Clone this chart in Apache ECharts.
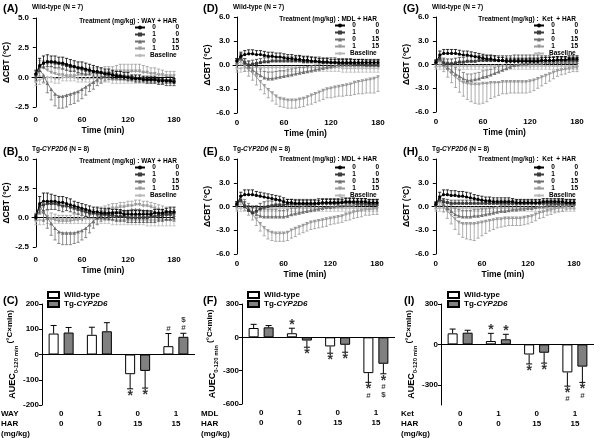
<!DOCTYPE html>
<html><head><meta charset="utf-8">
<script src="https://cdn.jsdelivr.net/npm/echarts@6/dist/echarts.min.js"></script>
<style>html,body{margin:0;padding:0;background:#fff}#c{width:600px;height:443px}</style>
</head><body><div id="c"></div>
<script>
// ---------- DATA ----------
const T = [0,5,10,15,20,25,30,35,40,45,50,55,60,65,70,75,80,85,90,95,100,105,110,115,120,125,130,135,140,145,150,155,160,165,170,175,180];
const SERIES_NAMES = ['0|0','1|0','0|15','1|15','Baseline'];
const TIME_TICKS = [0,60,120,180];

// Panel A (Wild-type, WAY + HAR)
const A_00  = [0.3,1.0,1.2,1.3,1.3,1.3,1.2,1.2,1.1,1.0, 0.9,0.8,0.8,0.7,0.6,0.5,0.5,0.4,0.3,0.3, 0.2,0.1,0.1,0.0,0.0,-0.1,-0.1,-0.1,-0.2,-0.2, -0.2,-0.2,-0.3,-0.3,-0.3,-0.3,-0.4];
const A_00e = [0.3,0.6,0.6,0.6,0.5,0.5,0.5,0.5,0.5,0.5, 0.5,0.5,0.5,0.5,0.5,0.5,0.4,0.4,0.4,0.4, 0.4,0.4,0.4,0.4,0.4,0.3,0.3,0.3,0.3,0.3, 0.3,0.3,0.3,0.3,0.3,0.3,0.3];
const A_10  = [0.2,0.9,1.2,1.3,1.3,1.2,1.2,1.1,1.0,0.9, 0.9,0.8,0.7,0.6,0.6,0.5,0.4,0.4,0.3,0.3, 0.2,0.2,0.1,0.1,0.0,0.0,-0.1,-0.1,-0.1,-0.2, -0.2,-0.2,-0.2,-0.2,-0.3,-0.3,-0.3];
const A_10e = [0.2,0.4,0.4,0.4,0.4,0.4,0.4,0.4,0.4,0.4, 0.4,0.4,0.4,0.4,0.4,0.4,0.3,0.3,0.3,0.3, 0.3,0.3,0.3,0.3,0.3,0.3,0.3,0.3,0.3,0.3, 0.3,0.3,0.4,0.4,0.4,0.4,0.4];
const A_015 = [0.0,0.6,0.2,-0.5,-1.0,-1.4,-1.6,-1.6,-1.5,-1.4, -1.3,-1.2,-1.0,-0.8,-0.6,-0.4,-0.2,0.0,0.1,0.2, 0.2,0.2,0.2,0.1,0.1,0.1,0.0,0.0,0.0,-0.1, -0.1,-0.1,-0.1,-0.2,-0.2,-0.2,-0.2];
const A_015e= [0.3,0.5,0.6,0.8,0.9,1.0,1.0,1.0,1.0,0.9, 0.9,0.8,0.8,0.7,0.6,0.6,0.5,0.5,0.4,0.4, 0.4,0.4,0.3,0.3,0.3,0.3,0.3,0.3,0.3,0.3, 0.3,0.3,0.3,0.3,0.3,0.3,0.3];
const A_115 = [0.2,0.8,0.8,0.6,0.4,0.3,0.2,0.2,0.1,0.1, 0.1,0.2,0.2,0.2,0.3,0.3,0.3,0.3,0.4,0.4, 0.4,0.5,0.5,0.5,0.5,0.5,0.5,0.5,0.4,0.4, 0.3,0.3,0.2,0.2,0.1,0.1,0.1];
const A_115e= [0.3,0.6,0.6,0.5,0.5,0.5,0.5,0.5,0.5,0.5, 0.5,0.5,0.5,0.5,0.5,0.5,0.5,0.5,0.5,0.5, 0.5,0.5,0.6,0.6,0.6,0.6,0.6,0.6,0.6,0.5, 0.5,0.5,0.5,0.4,0.4,0.4,0.4];
const A_BL  = [-0.4,-0.2,-0.1,0.0,0.0,-0.1,-0.1,0.0,0.0,0.0, 0.0,-0.1,-0.1,-0.1,-0.1,-0.1,-0.1,-0.1,-0.1,-0.1, -0.2,-0.2,-0.2,-0.2,-0.2,-0.2,-0.2,-0.2,-0.2,-0.2, -0.2,-0.2,-0.2,-0.2,-0.2,-0.2,-0.2];
const A_BLe = [0.3,0.4,0.4,0.4,0.4,0.4,0.4,0.3,0.3,0.3, 0.3,0.3,0.3,0.3,0.3,0.3,0.3,0.3,0.3,0.3, 0.3,0.3,0.3,0.3,0.3,0.3,0.3,0.3,0.3,0.3, 0.3,0.3,0.3,0.3,0.3,0.3,0.3];
const A_dir = [1,-1,-1,1,-1];

// Panel B (Tg-CYP2D6, WAY + HAR)
const B_00  = [0.0,1.2,1.4,1.4,1.4,1.4,1.3,1.3,1.2,1.1, 1.0,0.9,0.8,0.7,0.6,0.5,0.5,0.4,0.4,0.4, 0.4,0.4,0.4,0.3,0.3,0.3,0.3,0.3,0.3,0.3, 0.3,0.4,0.4,0.4,0.5,0.5,0.5];
const B_00e = [0.3,0.6,0.7,0.7,0.6,0.5,0.5,0.5,0.5,0.5, 0.4,0.4,0.4,0.4,0.4,0.4,0.4,0.4,0.4,0.4, 0.3,0.3,0.3,0.3,0.3,0.3,0.3,0.3,0.3,0.3, 0.3,0.3,0.3,0.3,0.3,0.4,0.4];
const B_10  = [0.1,1.0,1.1,1.2,1.2,1.2,1.1,1.0,1.0,0.9, 0.8,0.7,0.6,0.5,0.4,0.4,0.3,0.3,0.3,0.2, 0.2,0.1,0.1,0.1,0.0,0.0,0.0,0.0,0.0,0.0, 0.1,0.1,0.2,0.2,0.3,0.3,0.4];
const B_10e = [0.3,0.6,0.5,0.5,0.5,0.5,0.5,0.5,0.4,0.4, 0.4,0.4,0.4,0.4,0.4,0.4,0.4,0.4,0.4,0.4, 0.4,0.4,0.4,0.4,0.4,0.4,0.4,0.4,0.4,0.4, 0.5,0.5,0.5,0.5,0.5,0.5,0.5];
const B_015 = [0.2,1.0,0.5,0.0,-0.5,-0.9,-1.2,-1.3,-1.3,-1.3, -1.3,-1.2,-1.1,-0.9,-0.6,-0.3,0.0,0.2,0.3,0.4, 0.5,0.5,0.6,0.6,0.6,0.7,0.7,0.7,0.6,0.6, 0.5,0.5,0.4,0.4,0.3,0.3,0.2];
const B_015e= [0.3,0.7,0.8,0.9,1.0,1.0,1.0,1.0,1.0,1.0, 0.9,0.9,0.8,0.8,0.7,0.6,0.6,0.5,0.5,0.5, 0.5,0.5,0.5,0.5,0.5,0.5,0.5,0.5,0.5,0.5, 0.5,0.5,0.5,0.5,0.5,0.5,0.5];
const B_115 = [0.1,0.6,0.4,0.1,-0.1,-0.2,-0.3,-0.3,-0.3,-0.3, -0.2,-0.2,-0.1,0.0,0.2,0.3,0.4,0.5,0.6,0.7, 0.8,0.8,0.9,0.9,1.0,1.0,1.1,1.1,1.0,1.0, 0.9,0.8,0.7,0.6,0.5,0.4,0.3];
const B_115e= [0.3,0.5,0.5,0.5,0.5,0.5,0.5,0.5,0.5,0.5, 0.5,0.5,0.5,0.5,0.4,0.4,0.4,0.4,0.4,0.4, 0.4,0.4,0.4,0.4,0.4,0.4,0.4,0.4,0.4,0.4, 0.4,0.4,0.4,0.4,0.4,0.4,0.4];
const B_BL  = [-0.3,-0.2,-0.2,-0.1,-0.1,-0.1,-0.1,-0.1,-0.1,-0.1, -0.1,-0.1,-0.1,-0.1,-0.1,-0.1,-0.1,-0.1,-0.1,-0.1, -0.2,-0.2,-0.2,-0.2,-0.2,-0.2,-0.2,-0.2,-0.2,-0.2, -0.2,-0.2,-0.2,-0.2,-0.2,-0.2,-0.2];
const B_BLe = [0.3,0.4,0.4,0.4,0.4,0.4,0.4,0.4,0.4,0.4, 0.4,0.4,0.4,0.4,0.4,0.4,0.4,0.4,0.4,0.4, 0.4,0.4,0.4,0.4,0.4,0.4,0.4,0.4,0.4,0.5, 0.5,0.5,0.5,0.5,0.5,0.5,0.5];
const B_dir = [1,-1,-1,1,-1];

// Panel D (Wild-type, MDL + HAR)
const D_00  = [0.5,1.1,1.3,1.4,1.4,1.3,1.3,1.2,1.1,1.1, 1.0,1.0,0.9,0.8,0.8,0.7,0.7,0.6,0.6,0.5, 0.5,0.4,0.4,0.4,0.3,0.3,0.3,0.3,0.3,0.3, 0.3,0.3,0.3,0.3,0.3,0.3,0.3];
const D_00e = [0.3,0.5,0.5,0.5,0.5,0.5,0.5,0.5,0.5,0.5, 0.5,0.5,0.5,0.5,0.5,0.5,0.5,0.5,0.5,0.5, 0.4,0.4,0.4,0.4,0.4,0.4,0.4,0.4,0.4,0.4, 0.4,0.4,0.4,0.4,0.4,0.4,0.4];
const D_10  = [0.5,0.9,0.3,0.0,0.1,0.2,0.3,0.4,0.4,0.5, 0.5,0.5,0.5,0.5,0.5,0.5,0.5,0.4,0.4,0.4, 0.4,0.4,0.3,0.3,0.3,0.3,0.2,0.2,0.2,0.2, 0.1,0.1,0.1,0.0,0.0,0.0,0.0];
const D_10e = [0.3,0.5,0.5,0.5,0.5,0.5,0.5,0.5,0.5,0.5, 0.5,0.5,0.5,0.5,0.5,0.5,0.6,0.6,0.6,0.6, 0.6,0.6,0.6,0.6,0.6,0.6,0.6,0.6,0.6,0.6, 0.6,0.6,0.6,0.6,0.6,0.6,0.6];
const D_015 = [0.3,0.8,0.2,-0.2,-0.6,-1.0,-1.3,-1.6,-1.7,-1.7, -1.6,-1.5,-1.4,-1.3,-1.2,-1.1,-1.0,-0.9,-0.8,-0.7, -0.6,-0.5,-0.4,-0.3,-0.2,-0.1,0.0,0.0,0.0,0.0, 0.0,0.0,0.0,0.0,0.0,0.0,0.0];
const D_015e= [0.3,0.5,0.6,0.7,0.8,0.8,0.8,0.8,0.8,0.8, 0.8,0.8,0.7,0.7,0.7,0.7,0.7,0.6,0.6,0.6, 0.6,0.6,0.6,0.6,0.5,0.5,0.5,0.5,0.5,0.5, 0.5,0.5,0.5,0.5,0.5,0.5,0.5];
const D_115 = [0.0,0.5,-0.2,-0.6,-1.0,-1.5,-2.1,-2.6,-3.1,-3.5, -3.9,-4.2,-4.3,-4.4,-4.4,-4.4,-4.3,-4.2,-4.0,-3.8, -3.6,-3.4,-3.2,-3.0,-2.9,-2.8,-2.7,-2.6,-2.5,-2.4, -2.2,-2.1,-2.0,-1.9,-1.8,-1.7,-1.5];
const D_115e= [0.3,0.5,0.6,0.8,0.9,1.0,1.0,1.0,1.0,1.0, 1.0,1.0,1.0,1.0,1.0,1.0,1.0,1.0,1.0,1.1, 1.1,1.1,1.1,1.1,1.2,1.2,1.2,1.3,1.3,1.4, 1.5,1.5,1.6,1.6,1.7,1.8,1.8];
const D_BL  = [-0.5,-0.4,-0.3,-0.3,-0.3,-0.3,-0.3,-0.3,-0.3,-0.3, -0.3,-0.3,-0.3,-0.3,-0.3,-0.3,-0.3,-0.3,-0.3,-0.3, -0.3,-0.3,-0.3,-0.3,-0.3,-0.3,-0.3,-0.4,-0.4,-0.4, -0.4,-0.4,-0.4,-0.4,-0.4,-0.4,-0.4];
const D_BLe = [0.4,0.5,0.5,0.5,0.5,0.5,0.5,0.5,0.5,0.5, 0.5,0.5,0.5,0.5,0.5,0.5,0.5,0.5,0.5,0.5, 0.5,0.5,0.5,0.5,0.5,0.5,0.5,0.5,0.5,0.5, 0.5,0.5,0.5,0.5,0.5,0.5,0.5];
const D_dir = [1,1,1,-1,-1];

// Panel E (Tg-CYP2D6, MDL + HAR)
const E_00  = [0.3,1.3,1.5,1.5,1.5,1.4,1.3,1.2,1.1,1.0, 0.9,0.8,0.6,0.5,0.5,0.4,0.4,0.4,0.4,0.4, 0.4,0.4,0.5,0.5,0.5,0.5,0.5,0.5,0.6,0.6, 0.6,0.6,0.6,0.6,0.5,0.5,0.5];
const E_00e = [0.3,0.5,0.6,0.6,0.6,0.5,0.5,0.5,0.5,0.5, 0.5,0.5,0.5,0.4,0.4,0.4,0.4,0.4,0.4,0.4, 0.4,0.4,0.4,0.4,0.4,0.4,0.4,0.4,0.4,0.4, 0.4,0.4,0.4,0.4,0.4,0.4,0.4];
const E_10  = [0.3,0.8,0.0,-0.5,-0.8,-0.6,-0.3,-0.1,0.0,0.1, 0.2,0.2,0.2,0.3,0.3,0.3,0.3,0.3,0.3,0.3, 0.3,0.4,0.4,0.4,0.4,0.4,0.4,0.5,0.5,0.5, 0.5,0.4,0.4,0.4,0.3,0.3,0.3];
const E_10e = [0.3,0.5,0.6,0.6,0.7,0.7,0.7,0.7,0.7,0.6, 0.6,0.6,0.6,0.6,0.6,0.6,0.6,0.6,0.6,0.6, 0.6,0.6,0.6,0.6,0.6,0.6,0.6,0.6,0.6,0.6, 0.6,0.6,0.6,0.6,0.6,0.6,0.6];
const E_015 = [0.3,0.8,0.3,-0.3,-0.7,-1.0,-1.2,-1.3,-1.3,-1.3, -1.3,-1.3,-1.3,-1.2,-1.0,-0.9,-0.8,-0.7,-0.6,-0.5, -0.4,-0.3,-0.2,-0.1,-0.1,0.0,0.1,0.1,0.2,0.2, 0.2,0.3,0.3,0.3,0.3,0.3,0.3];
const E_015e= [0.3,0.5,0.6,0.7,0.8,0.9,0.9,0.9,0.9,0.9, 0.9,0.8,0.8,0.8,0.8,0.7,0.7,0.7,0.7,0.7, 0.7,0.6,0.6,0.6,0.6,0.6,0.6,0.6,0.5,0.5, 0.5,0.5,0.5,0.5,0.5,0.5,0.5];
const E_115 = [0.2,0.6,0.0,-0.5,-1.0,-1.6,-2.2,-2.7,-3.1,-3.3, -3.4,-3.4,-3.4,-3.3,-3.0,-2.8,-2.6,-2.4,-2.2,-2.0, -1.9,-1.8,-1.7,-1.6,-1.5,-1.4,-1.3,-1.2,-1.0,-0.9, -0.7,-0.6,-0.5,-0.4,-0.4,-0.3,-0.3];
const E_115e= [0.3,0.4,0.5,0.6,0.7,0.8,0.9,1.0,1.0,1.0, 1.0,1.0,1.0,1.0,1.0,1.0,0.9,0.9,0.9,0.9, 0.9,0.9,0.9,0.9,0.8,0.8,0.8,0.8,0.8,0.8, 0.8,0.8,0.8,0.7,0.7,0.7,0.7];
const E_BL  = [-0.3,-0.2,-0.2,-0.2,-0.2,-0.2,-0.2,-0.2,-0.2,-0.2, -0.2,-0.2,-0.2,-0.2,-0.2,-0.2,-0.2,-0.2,-0.2,-0.2, -0.2,-0.2,-0.2,-0.2,-0.2,-0.2,-0.2,-0.2,-0.2,-0.2, -0.2,-0.2,-0.2,-0.2,-0.2,-0.2,-0.2];
const E_BLe = [0.3,0.4,0.4,0.4,0.4,0.4,0.4,0.4,0.4,0.4, 0.4,0.4,0.4,0.4,0.4,0.4,0.4,0.4,0.4,0.4, 0.4,0.4,0.4,0.4,0.4,0.4,0.4,0.4,0.4,0.4, 0.4,0.4,0.4,0.4,0.4,0.4,0.4];
const E_dir = [1,1,1,-1,-1];

// Panel G (Wild-type, Ket + HAR)
const G_00  = [0.3,1.2,1.4,1.4,1.4,1.4,1.3,1.2,1.2,1.1, 1.0,0.9,0.8,0.7,0.7,0.6,0.5,0.5,0.4,0.4, 0.4,0.4,0.4,0.4,0.4,0.4,0.4,0.5,0.5,0.5, 0.5,0.6,0.6,0.6,0.7,0.7,0.7];
const G_00e = [0.3,0.5,0.5,0.5,0.5,0.5,0.5,0.5,0.5,0.5, 0.5,0.5,0.5,0.5,0.5,0.5,0.4,0.4,0.4,0.4, 0.4,0.4,0.4,0.4,0.4,0.4,0.4,0.4,0.4,0.4, 0.4,0.4,0.4,0.4,0.4,0.4,0.4];
const G_10  = [0.2,0.8,0.2,0.1,0.1,0.2,0.3,0.3,0.4,0.4, 0.4,0.5,0.5,0.5,0.5,0.5,0.5,0.5,0.5,0.5, 0.5,0.5,0.5,0.5,0.5,0.5,0.5,0.5,0.5,0.5, 0.5,0.5,0.5,0.5,0.5,0.5,0.5];
const G_10e = [0.3,0.5,0.6,0.6,0.6,0.6,0.6,0.6,0.6,0.6, 0.6,0.6,0.6,0.6,0.6,0.6,0.6,0.6,0.6,0.6, 0.7,0.7,0.7,0.7,0.7,0.7,0.7,0.6,0.6,0.6, 0.5,0.5,0.5,0.5,0.4,0.4,0.4];
const G_015 = [0.2,0.6,0.0,-0.4,-0.8,-1.2,-1.5,-1.8,-2.0,-2.0, -1.9,-1.8,-1.6,-1.5,-1.3,-1.1,-0.9,-0.7,-0.5,-0.3, -0.1,0.0,0.1,0.1,0.2,0.2,0.2,0.2,0.3,0.3, 0.3,0.3,0.3,0.3,0.3,0.3,0.3];
const G_015e= [0.3,0.5,0.6,0.7,0.8,0.8,0.8,0.8,0.8,0.8, 0.8,0.8,0.8,0.8,0.7,0.7,0.7,0.7,0.7,0.7, 0.7,0.7,0.6,0.6,0.6,0.6,0.6,0.6,0.6,0.6, 0.6,0.6,0.6,0.6,0.6,0.6,0.6];
const G_115 = [0.0,0.5,-0.2,-0.7,-1.2,-1.6,-2.0,-2.3,-2.4,-2.5, -2.5,-2.5,-2.4,-2.4,-2.3,-2.3,-2.3,-2.2,-2.2,-2.2, -2.2,-2.2,-2.2,-2.2,-2.1,-2.0,-1.8,-1.6,-1.4,-1.2, -1.0,-0.8,-0.7,-0.6,-0.5,-0.4,-0.4];
const G_115e= [0.3,0.5,0.7,0.9,1.1,1.3,1.5,1.7,2.0,2.2, 2.4,2.5,2.5,2.3,2.0,1.8,1.6,1.5,1.5,1.4, 1.4,1.4,1.4,1.4,1.4,1.3,1.2,1.1,1.0,0.9, 0.8,0.7,0.6,0.6,0.5,0.5,0.5];
const G_BL  = [-0.3,-0.2,-0.2,-0.2,-0.2,-0.2,-0.2,-0.2,-0.2,-0.2, -0.2,-0.2,-0.2,-0.2,-0.2,-0.2,-0.2,-0.2,-0.2,-0.2, -0.2,-0.2,-0.2,-0.2,-0.2,-0.2,-0.2,-0.2,-0.2,-0.2, -0.2,-0.2,-0.2,-0.2,-0.2,-0.2,-0.2];
const G_BLe = [0.3,0.4,0.4,0.4,0.4,0.4,0.4,0.4,0.4,0.4, 0.4,0.4,0.4,0.4,0.4,0.4,0.4,0.4,0.4,0.4, 0.4,0.4,0.4,0.4,0.4,0.4,0.4,0.4,0.4,0.4, 0.4,0.4,0.4,0.4,0.4,0.4,0.4];
const G_dir = [1,1,1,-1,-1];

// Panel H (Tg-CYP2D6, Ket + HAR)
const H_00  = [0.3,1.2,1.5,1.5,1.4,1.4,1.3,1.3,1.2,1.1, 1.0,0.9,0.8,0.7,0.7,0.6,0.6,0.6,0.6,0.6, 0.6,0.5,0.5,0.5,0.5,0.5,0.5,0.5,0.6,0.6, 0.6,0.6,0.6,0.6,0.5,0.5,0.5];
const H_00e = [0.3,0.6,0.6,0.6,0.6,0.6,0.6,0.6,0.6,0.6, 0.5,0.5,0.5,0.5,0.5,0.5,0.5,0.5,0.5,0.5, 0.4,0.4,0.4,0.4,0.4,0.4,0.4,0.4,0.4,0.4, 0.4,0.4,0.4,0.4,0.4,0.4,0.4];
const H_10  = [0.2,0.9,0.6,0.5,0.4,0.4,0.4,0.4,0.4,0.4, 0.4,0.4,0.4,0.4,0.4,0.4,0.4,0.4,0.4,0.4, 0.4,0.4,0.4,0.4,0.4,0.4,0.4,0.4,0.4,0.4, 0.4,0.4,0.4,0.4,0.4,0.4,0.4];
const H_10e = [0.3,0.4,0.4,0.4,0.4,0.4,0.4,0.4,0.4,0.4, 0.4,0.4,0.4,0.4,0.4,0.4,0.4,0.4,0.4,0.4, 0.4,0.4,0.4,0.4,0.4,0.4,0.4,0.4,0.4,0.4, 0.4,0.4,0.4,0.4,0.4,0.4,0.4];
const H_015 = [0.2,0.8,0.3,-0.2,-0.6,-1.0,-1.2,-1.3,-1.3,-1.3, -1.2,-1.2,-1.1,-1.0,-0.9,-0.8,-0.7,-0.6,-0.6,-0.5, -0.4,-0.4,-0.3,-0.3,-0.2,-0.2,-0.1,0.0,0.0,0.1, 0.2,0.2,0.3,0.3,0.3,0.3,0.3];
const H_015e= [0.3,0.5,0.6,0.7,0.8,0.8,0.8,0.8,0.8,0.8, 0.8,0.8,0.8,0.7,0.7,0.7,0.7,0.7,0.7,0.7, 0.7,0.6,0.6,0.6,0.6,0.6,0.6,0.6,0.6,0.6, 0.6,0.6,0.6,0.6,0.6,0.6,0.6];
const H_115 = [0.1,0.6,0.0,-0.6,-1.1,-1.6,-2.0,-2.2,-2.2,-2.2, -2.2,-2.1,-2.0,-1.9,-1.8,-1.7,-1.6,-1.6,-1.5,-1.5, -1.5,-1.5,-1.5,-1.4,-1.3,-1.2,-1.0,-0.8,-0.7,-0.5, -0.4,-0.3,-0.2,-0.1,0.0,0.1,0.1];
const H_115e= [0.3,0.5,0.7,0.9,1.1,1.3,1.5,1.7,1.9,2.0, 2.1,1.9,1.7,1.5,1.3,1.2,1.1,1.0,1.0,0.9, 0.9,0.9,0.9,0.9,0.9,0.8,0.8,0.7,0.7,0.6, 0.6,0.5,0.5,0.5,0.4,0.4,0.4];
const H_BL  = [-0.3,-0.2,-0.2,-0.2,-0.2,-0.2,-0.2,-0.2,-0.2,-0.2, -0.2,-0.2,-0.2,-0.2,-0.2,-0.2,-0.2,-0.2,-0.2,-0.2, -0.2,-0.2,-0.2,-0.2,-0.2,-0.2,-0.2,-0.2,-0.2,-0.2, -0.2,-0.2,-0.2,-0.2,-0.2,-0.2,-0.2];
const H_BLe = [0.3,0.4,0.4,0.4,0.4,0.4,0.4,0.4,0.4,0.4, 0.4,0.4,0.4,0.4,0.4,0.4,0.4,0.4,0.4,0.4, 0.4,0.4,0.4,0.4,0.4,0.4,0.4,0.4,0.4,0.4, 0.4,0.4,0.4,0.4,0.4,0.4,0.4];
const H_dir = [1,1,1,-1,-1];

// Bar panels: AUEC 0-120 min
const BAR_GROUPS = ['g1','g2','g3','g4'];
const HAR_DOSE = ['0','0','15','15'];
const C_DRUG = ['0','1','0','1'];
const C_WT = [83, 78, -78, 33];   const C_WTe = [32, 30, 58, 50];
const C_TG = [87, 92, -65, 70];   const C_TGe = [20, 34, 68, 14];
const C_WTann = ['', '', '*', '#'];
const C_TGann = ['', '', '*', '$\n#'];
const F_DRUG = ['0','1','0','1'];
const F_WT = [84, 37, -82, -322]; const F_WTe = [33, 45, 61, 83];
const F_TG = [90, -29, -67, -238]; const F_TGe = [16, 60, 67, 90];
const F_WTann = ['', '*', '*', '*\n#'];
const F_TGann = ['', '*', '*', '*\n#\n$'];
const I_DRUG = ['0','1','0','1'];
const I_WT = [82, 25, -75, -208]; const I_WTe = [32, 57, 70, 102];
const I_TG = [87, 38, -62, -165]; const I_TGe = [18, 37, 77, 117];
const I_WTann = ['', '*', '*', '*\n#'];
const I_TGann = ['', '*', '*', '*\n#'];

// ---------- CHART ----------
const FONT = '"Liberation Sans", Arial, Helvetica, sans-serif';
const STY = [
  {color:'#000000', symbol:'circle', rot:0, size:3.2},
  {color:'#3c3c3c', symbol:'rect', rot:0, size:3},
  {color:'#707070', symbol:'triangle', rot:0, size:3.6},
  {color:'#9a9a9a', symbol:'triangle', rot:180, size:3.6},
  {color:'#b8b8b8', symbol:'diamond', rot:0, size:3.6}
];

const timePanels = [
  {grid:{left:32,top:18,width:142,height:89}, ymin:-2.5,ymax:5,yint:2.5, xoff:5,
   m:[A_00,A_10,A_015,A_115,A_BL], e:[A_00e,A_10e,A_015e,A_115e,A_BLe], dir:A_dir, leg:{left:134,top:24}},
  {grid:{left:32,top:159,width:142,height:88}, ymin:-2.5,ymax:5,yint:2.5, xoff:5,
   m:[B_00,B_10,B_015,B_115,B_BL], e:[B_00e,B_10e,B_015e,B_115e,B_BLe], dir:B_dir, leg:{left:134,top:164}},
  {grid:{left:233,top:17,width:145,height:96}, ymin:-6,ymax:6,yint:3, xoff:2,
   m:[D_00,D_10,D_015,D_115,D_BL], e:[D_00e,D_10e,D_015e,D_115e,D_BLe], dir:D_dir, leg:{left:334,top:22}},
  {grid:{left:233,top:159,width:144,height:95}, ymin:-6,ymax:6,yint:3, xoff:2,
   m:[E_00,E_10,E_015,E_115,E_BL], e:[E_00e,E_10e,E_015e,E_115e,E_BLe], dir:E_dir, leg:{left:334,top:164}},
  {grid:{left:432,top:17,width:145,height:95}, ymin:-6,ymax:6,yint:3, xoff:2,
   m:[G_00,G_10,G_015,G_115,G_BL], e:[G_00e,G_10e,G_015e,G_115e,G_BLe], dir:G_dir, leg:{left:533,top:22}},
  {grid:{left:432,top:159,width:142,height:95}, ymin:-6,ymax:6,yint:3, xoff:2,
   m:[H_00,H_10,H_015,H_115,H_BL], e:[H_00e,H_10e,H_015e,H_115e,H_BLe], dir:H_dir, leg:{left:533,top:164}}
];

const barPanels = [
  {grid:{left:42,top:304,width:153,height:101}, ymin:-200,ymax:200,yint:100, drug:C_DRUG,
   wt:C_WT, wte:C_WTe, tg:C_TG, tge:C_TGe, wta:C_WTann, tga:C_TGann, leg:{left:47,top:291}},
  {grid:{left:242,top:304,width:153,height:100}, ymin:-600,ymax:300,yint:300, drug:F_DRUG,
   wt:F_WT, wte:F_WTe, tg:F_TG, tge:F_TGe, wta:F_WTann, tga:F_TGann, leg:{left:247,top:291}},
  {grid:{left:441,top:304,width:153,height:101}, ymin:-450,ymax:300,yint:150, custom:[-300,0,300], drug:I_DRUG,
   wt:I_WT, wte:I_WTe, tg:I_TG, tge:I_TGe, wta:I_WTann, tga:I_TGann, leg:{left:447,top:291}}
];

const grids = [], xAxes = [], yAxes = [], series = [], legends = [];
const axisTxt = {fontFamily:FONT, fontWeight:'bold', fontSize:8, color:'#000'};

function timeErr(params, api) {
  const x = api.value(0), y = api.value(1), e = api.value(2), d = api.value(3);
  const p0 = api.coord([x, y]), p1 = api.coord([x, y + d * e]);
  const c = api.visual('color');
  return {type:'group', children:[
    {type:'line', shape:{x1:p0[0],y1:p0[1],x2:p1[0],y2:p1[1]}, style:{stroke:c,lineWidth:0.8}},
    {type:'line', shape:{x1:p1[0]-1.6,y1:p1[1],x2:p1[0]+1.6,y2:p1[1]}, style:{stroke:c,lineWidth:0.8}}
  ]};
}
function barErr(params, api) {
  const cat = api.value(0), v = api.value(1), e = api.value(2), side = api.value(3);
  const s = v >= 0 ? 1 : -1;
  const p0 = api.coord([cat, v]), p1 = api.coord([cat, v + s * e]);
  const x = p0[0] + side * 7.5;
  const st = {stroke:'#000', lineWidth:1};
  return {type:'group', children:[
    {type:'line', shape:{x1:x,y1:p0[1],x2:x,y2:p1[1]}, style:st},
    {type:'line', shape:{x1:x-3,y1:p1[1],x2:x+3,y2:p1[1]}, style:st}
  ]};
}

timePanels.forEach((p, k) => {
  grids.push(Object.assign({outerBoundsMode:'none', containLabel:false}, p.grid));
  xAxes.push({type:'value', gridIndex:k, min:-5, max:180, offset:p.xoff,
    name:'Time (min)', nameLocation:'middle', nameGap:14,
    nameTextStyle:{fontFamily:FONT, fontWeight:'bold', fontSize:8.5, color:'#000'},
    axisLine:{lineStyle:{color:'#000', width:1}}, splitLine:{show:false},
    axisTick:{length:3, lineStyle:{color:'#000'}, customValues:TIME_TICKS},
    axisLabel:Object.assign({margin:4, customValues:TIME_TICKS}, axisTxt)});
  yAxes.push({type:'value', gridIndex:k, min:p.ymin, max:p.ymax, interval:p.yint,
    name:'ΔCBT (°C)', nameLocation:'middle', nameGap:19, nameRotate:90,
    nameTextStyle:{fontFamily:FONT, fontWeight:'bold', fontSize:8.5, color:'#000'},
    axisLine:{show:true, lineStyle:{color:'#000', width:1}}, splitLine:{show:false},
    axisTick:{show:true, length:3, lineStyle:{color:'#000'}},
    axisLabel:Object.assign({margin:3, formatter:v => v.toFixed(1)}, axisTxt)});
  for (let s = 0; s < 5; s++) {
    const st = STY[s];
    series.push({type:'line', name:SERIES_NAMES[s], xAxisIndex:k, yAxisIndex:k,
      data:T.map((t,i) => [t, p.m[s][i]]), symbol:st.symbol, symbolRotate:st.rot, symbolSize:st.size,
      showSymbol:true, lineStyle:{color:st.color, width:0.9}, itemStyle:{color:st.color},
      z:10 - s, animation:false, silent:true});
    series.push({type:'custom', name:'err'+k+'_'+s, xAxisIndex:k, yAxisIndex:k,
      data:T.map((t,i) => [t, p.m[s][i], p.e[s][i], p.dir[s]]),
      encode:{x:0, y:1}, renderItem:timeErr, itemStyle:{color:st.color}, z:10 - s, silent:true, animation:false});
  }
  const lt = {fontFamily:FONT, fontWeight:'bold', fontSize:6.5, color:'#000', lineHeight:5};
  legends.push({orient:'vertical', left:p.leg.left, top:p.leg.top, itemWidth:10, itemHeight:5, itemGap:0,
    padding:0, data:SERIES_NAMES.slice(), selectedMode:false, z:20,
    formatter:n => n === 'Baseline' ? '{c|Baseline}' : '{a|' + n.split('|')[0] + '}{b|' + n.split('|')[1] + '}',
    textStyle:Object.assign({}, lt, {rich:{a:Object.assign({width:8, align:'center'}, lt),
      b:Object.assign({width:21, align:'right'}, lt), c:Object.assign({}, lt)}})});
});

barPanels.forEach((p, j) => {
  const k = timePanels.length + j;
  grids.push(Object.assign({outerBoundsMode:'none', containLabel:false}, p.grid));
  xAxes.push({type:'category', gridIndex:k, data:BAR_GROUPS,
    axisLine:{show:false, onZero:false}, axisTick:{show:false},
    axisLabel:Object.assign({margin:4, lineHeight:10, interval:0,
      formatter:(v, i) => p.drug[i] + '\n' + HAR_DOSE[i]}, axisTxt)});
  const yName = '{a|AUEC}{b|0-120 min}{c| (°C×min)}';
  const nb = {fontFamily:FONT, fontWeight:'bold', color:'#000'};
  yAxes.push({type:'value', gridIndex:k, min:p.ymin, max:p.ymax, interval:p.yint,
    name:yName, nameLocation:'middle', nameGap:22, nameRotate:90,
    nameTextStyle:Object.assign({fontSize:8.5, rich:{
      a:Object.assign({fontSize:9, lineHeight:13, verticalAlign:'middle'}, nb),
      b:Object.assign({fontSize:6, lineHeight:13, verticalAlign:'bottom'}, nb),
      c:Object.assign({fontSize:8, lineHeight:13, verticalAlign:'top'}, nb)}}, nb),
    axisLine:{show:true, lineStyle:{color:'#000', width:1}}, splitLine:{show:false},
    axisTick:Object.assign({show:true, length:3, lineStyle:{color:'#000'}}, p.custom ? {customValues:p.custom} : {}),
    axisLabel:Object.assign({margin:3}, p.custom ? {customValues:p.custom} : {}, axisTxt)});
  const barCommon = {type:'bar', xAxisIndex:k, yAxisIndex:k, barWidth:10, barGap:'50%', animation:false, silent:true};
  series.push(Object.assign({}, barCommon, {name:'Wild-type', data:p.wt,
    itemStyle:{color:'#ffffff', borderColor:'#000', borderWidth:1},
    markLine:{silent:true, symbol:'none', label:{show:false}, animation:false,
      lineStyle:{color:'#000', type:'solid', width:1}, data:[{yAxis:0}]}}));
  series.push(Object.assign({}, barCommon, {name:'Tg-CYP2D6', data:p.tg,
    itemStyle:{color:'#808080', borderColor:'#000', borderWidth:1}}));
  series.push({type:'custom', name:'barerr'+j, xAxisIndex:k, yAxisIndex:k, renderItem:barErr, silent:true, animation:false,
    encode:{x:0, y:1},
    data:p.wt.map((v,i) => [i, v, p.wte[i], -1]).concat(p.tg.map((v,i) => [i, v, p.tge[i], 1]))});
  const ann = [];
  [[p.wt, p.wte, p.wta, -1], [p.tg, p.tge, p.tga, 1]].forEach(([m, e, a, side]) => {
    m.forEach((v, i) => {
      if (!a[i]) return;
      const s = v >= 0 ? 1 : -1;
      ann.push({value:[i, v + s * e[i]], label:{show:true, position: s > 0 ? 'top' : 'bottom',
        distance: 1, offset:[side * 7.5, 0],
        formatter: a[i].split('\n').map(t => t === '*' ? '{s|*}' : '{h|' + t + '}').join('\n')}});
    });
  });
  series.push({type:'scatter', name:'ann'+j, xAxisIndex:k, yAxisIndex:k, symbolSize:0, silent:true, animation:false,
    data:ann, label:{color:'#000', rich:{
      s:{fontFamily:FONT, fontWeight:'bold', fontSize:14, lineHeight:8, color:'#000', padding:[4,0,0,0]},
      h:{fontFamily:FONT, fontWeight:'bold', fontSize:8, lineHeight:8, color:'#000'}}}});
  const bt = {fontFamily:FONT, fontWeight:'bold', fontSize:8, color:'#000', lineHeight:8};
  legends.push({orient:'vertical', left:p.leg.left, top:p.leg.top, itemWidth:11, itemHeight:6, itemGap:1,
    padding:0, data:['Wild-type','Tg-CYP2D6'], selectedMode:false, icon:'rect',
    formatter:n => n === 'Tg-CYP2D6' ? '{n|Tg-}{i|CYP2D6}' : '{n|' + n + '}',
    textStyle:Object.assign({}, bt, {rich:{n:Object.assign({}, bt), i:Object.assign({fontStyle:'italic'}, bt)}})});
});

// free texts
const G = [];
function txt(x, y, text, size, align, extra) {
  G.push({type:'text', x:x, y:y, silent:true, style:Object.assign({text:text, fontFamily:FONT, fontWeight:'bold',
    fontSize:size, fill:'#000', align:align || 'left', verticalAlign:'middle'}, extra || {})});
}
[['(A)',3,9],['(B)',3,152],['(C)',3,301],['(D)',203,9],['(E)',203,152],['(F)',203,301],['(G)',403,9],['(H)',403,152],['(I)',404,301]]
  .forEach(d => txt(d[1], d[2], d[0], 11));
const subRich = {rich:{n:{fontFamily:FONT, fontWeight:'bold', fontSize:6.5, fill:'#000'},
                       i:{fontFamily:FONT, fontWeight:'bold', fontStyle:'italic', fontSize:6.5, fill:'#000'}}};
[32, 233, 432].forEach(x => {
  txt(x, 7, '{n|Wild-type (N = 7)}', 6.5, 'left', subRich);
  txt(x, 149, '{n|Tg-}{i|CYP2D6}{n| (N = 8)}', 6.5, 'left', subRich);
});
[[177, 21, 'Treatment (mg/kg) : WAY + HAR'], [177, 161, 'Treatment (mg/kg) : WAY + HAR'],
 [377, 19, 'Treatment (mg/kg) : MDL + HAR'], [377, 159, 'Treatment (mg/kg) : MDL + HAR'],
 [576, 19, 'Treatment (mg/kg) :  Ket  + HAR'], [576, 159, 'Treatment (mg/kg) :  Ket  + HAR']]
  .forEach(d => txt(d[0], d[1], d[2], 6.5, 'right'));
[[1, 'WAY'], [201, 'MDL'], [401, 'Ket']].forEach(d => {
  txt(d[0], 414, d[1], 8);
  txt(d[0], 424, 'HAR', 8);
  txt(d[0], 434, '(mg/kg)', 8);
});

const chart = echarts.init(document.getElementById('c'), null, {renderer:'canvas'});
chart.setOption({animation:false, backgroundColor:'#fff', grid:grids, xAxis:xAxes, yAxis:yAxes,
  series:series, legend:legends, graphic:G});
</script></body></html>
